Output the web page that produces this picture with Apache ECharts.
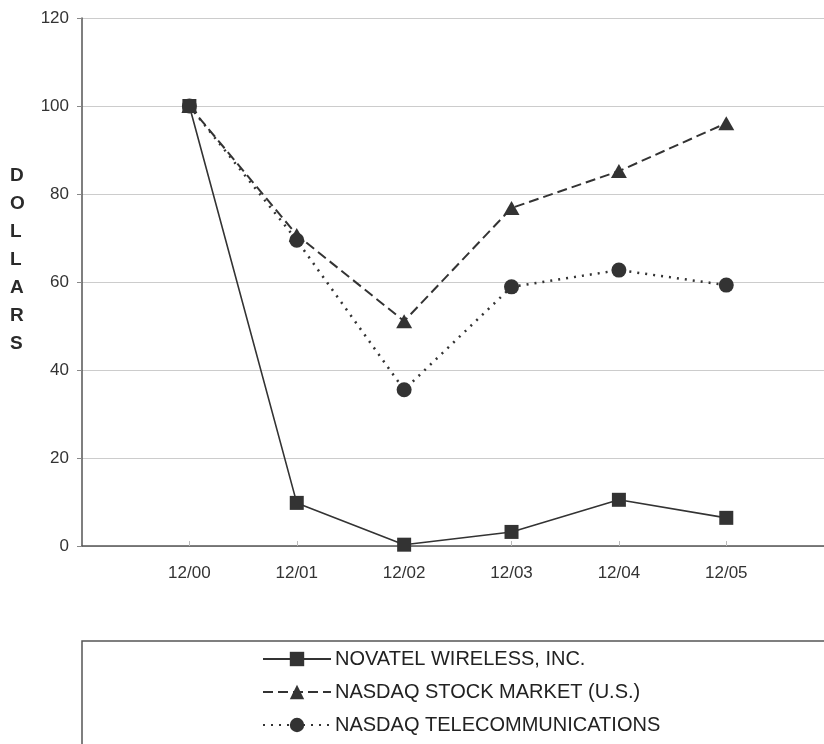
<!DOCTYPE html>
<html><head><meta charset="utf-8">
<script src="https://cdn.jsdelivr.net/npm/echarts@6/dist/echarts.min.js"></script>
<style>html,body{margin:0;padding:0;background:#fff}#c{width:824px;height:744px}</style>
</head><body><div id="c"></div>
<script>
var categories = ['12/00', '12/01', '12/02', '12/03', '12/04', '12/05'];
var novatel = [100, 9.8, 0.3, 3.2, 10.5, 6.4];
var nasdaq = [100, 70.7, 51.1, 76.8, 85.2, 96.1];
var telecom = [100, 69.5, 35.5, 58.9, 62.7, 59.3];
var yTicks = [0, 20, 40, 60, 80, 100, 120];
var names = ['NOVATEL WIRELESS, INC.', 'NASDAQ STOCK MARKET (U.S.)', 'NASDAQ TELECOMMUNICATIONS'];

function pairs(arr){ return arr.map(function(v, i){ return [i, v]; }); }

var ink = '#333';
var chart = echarts.init(document.getElementById('c'));
chart.setOption({
  animation: false,
  grid: {left: 82, top: 18, right: 0, bottom: 198, containLabel: false},
  xAxis: {
    type: 'value', min: -1, max: 5.91, interval: 1,
    axisLine: {onZero: false, lineStyle: {color: '#555', width: 1.5}},
    axisTick: {inside: true, length: 5, lineStyle: {color: '#bbb'}},
    axisLabel: {margin: 19, color: '#333', fontSize: 17, fontFamily: 'Liberation Sans, Arial, sans-serif',
      showMinLabel: false, showMaxLabel: false,
      formatter: function(v){ return (v >= 0 && Math.abs(v - Math.round(v)) < 1e-6) ? (categories[Math.round(v)] || '') : ''; }},
    splitLine: {show: false}
  },
  yAxis: {
    type: 'value', min: 0, max: 120, interval: 20,
    axisLine: {show: true, onZero: false, lineStyle: {color: '#555', width: 1.5}},
    axisTick: {show: true, length: 5, lineStyle: {color: '#888'}},
    axisLabel: {margin: 13, color: '#333', fontSize: 17, fontFamily: 'Liberation Sans, Arial, sans-serif'},
    splitLine: {show: true, lineStyle: {color: '#ccc', width: 1.2}}
  },
  legend: {
    orient: 'vertical', left: 257, top: 644, itemGap: 13,
    itemWidth: 68, itemHeight: 18,
    textStyle: {color: '#222', fontSize: 20, fontFamily: 'Liberation Sans, Arial, sans-serif', padding: [0,0,0,-1]},
    data: names
  },
  graphic: [
    {type: 'rect', shape: {x: 82, y: 641, width: 800, height: 200}, style: {fill: 'none', stroke: '#555', lineWidth: 1.5}, z: -1},
    {type: 'text', left: 10, top: 162, style: {text: 'D\nO\nL\nL\nA\nR\nS', fill: '#2a2a2a', font: '900 19px Liberation Sans, Arial, sans-serif', lineHeight: 28, align: 'center'}}
  ],
  series: [
    {name: names[0], type: 'line', data: pairs(novatel), symbol: 'rect', symbolSize: 14,
      lineStyle: {color: ink, width: 1.6, type: 'solid'}, itemStyle: {color: ink}, z: 5},
    {name: names[1], type: 'line', data: pairs(nasdaq), symbol: 'triangle', symbolSize: [16, 14],
      lineStyle: {color: ink, width: 2, type: [10, 5]}, itemStyle: {color: ink}, z: 4},
    {name: names[2], type: 'line', data: pairs(telecom), symbol: 'circle', symbolSize: 15,
      lineStyle: {color: ink, width: 2.5, type: [2, 6]}, itemStyle: {color: ink}, z: 3}
  ]
});
</script></body></html>
